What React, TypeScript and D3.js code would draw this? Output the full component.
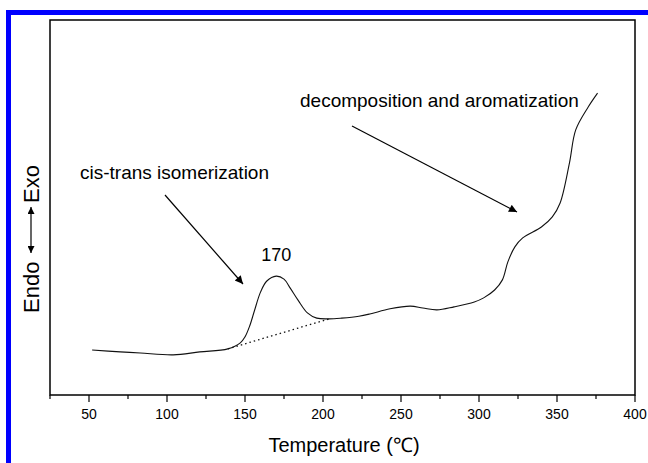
import React from "react";
import * as d3 from "d3";

const temperature: number[] = [52, 70, 83, 104, 121, 139, 147, 150, 153, 156, 160, 164, 170, 175, 179, 184, 190, 196, 204, 212, 223, 230, 243, 256, 264, 273, 284, 297, 303, 310, 315, 318.5, 323, 328, 340, 347, 352, 358, 362, 370, 376];
const heatFlow: number[] = [1.2, 1.15, 1.12, 1.07, 1.15, 1.23, 1.39, 1.55, 1.84, 2.24, 2.75, 3.04, 3.17, 3.09, 2.85, 2.53, 2.19, 2.05, 2.03, 2.05, 2.1, 2.16, 2.3, 2.37, 2.32, 2.27, 2.35, 2.48, 2.59, 2.8, 3.07, 3.55, 3.95, 4.19, 4.48, 4.75, 5.12, 6.19, 7.07, 7.68, 8.05];
const baselineT: number[] = [139, 204];
const baselineV: number[] = [1.23, 2.03];
const majorTicks: number[] = [50, 100, 150, 200, 250, 300, 350, 400];
const minorTicks: number[] = [25, 75, 125, 175, 225, 275, 325, 375];

export default function App() {
  const W = 648, H = 463;
  const left = 50, right = 635, top = 20, bottom = 395;
  const x = d3.scaleLinear().domain([25, 400]).range([left, right]);
  const y = d3.scaleLinear().domain([0, 10]).range([bottom, top]);
  const pts: [number, number][] = temperature.map((t, i) => [t, heatFlow[i]]);
  const line = d3
    .line<[number, number]>()
    .x((d) => x(d[0]))
    .y((d) => y(d[1]))
    .curve(d3.curveCatmullRom.alpha(0.5));
  const base: [number, number][] = baselineT.map((t, i) => [t, baselineV[i]]);
  const font = "'Liberation Sans', Arial, sans-serif";

  return (
    <svg width={W} height={H} style={{ position: "absolute", left: 0, top: 0, background: "#fff" }}>
      <defs>
        <marker id="ah" viewBox="0 0 10 10" refX="10" refY="5" markerWidth="10" markerHeight="8" markerUnits="userSpaceOnUse" orient="auto">
          <path d="M0,0 L10,5 L0,10 z" fill="#000" />
        </marker>
        <marker id="ahs" viewBox="0 0 10 10" refX="10" refY="5" markerWidth="8" markerHeight="7" markerUnits="userSpaceOnUse" orient="auto-start-reverse">
          <path d="M0,0 L10,5 L0,10 z" fill="#000" />
        </marker>
      </defs>
      <rect x={0} y={0} width={W} height={H} fill="#fff" />
      {/* blue border */}
      <rect x={6} y={10} width={642} height={5} fill="#0000ff" />
      <rect x={6} y={10} width={5} height={453} fill="#0000ff" />

      {/* frame */}
      <rect x={left} y={top} width={right - left} height={bottom - top} fill="none" stroke="#000" strokeWidth={1.5} />

      {/* ticks */}
      {majorTicks.map((t) => (
        <g key={"M" + t}>
          <line x1={x(t)} x2={x(t)} y1={bottom} y2={bottom + 7} stroke="#000" strokeWidth={1.2} />
          <text x={x(t)} y={419} textAnchor="middle" fontFamily={font} fontSize={14} fill="#000">
            {t}
          </text>
        </g>
      ))}
      {minorTicks.map((t) => (
        <line key={"m" + t} x1={x(t)} x2={x(t)} y1={bottom} y2={bottom + 4} stroke="#000" strokeWidth={1.2} />
      ))}

      {/* x axis title */}
      <text x={344} y={452} textAnchor="middle" fontFamily={font} fontSize={20} fill="#000">
        Temperature (℃)
      </text>

      {/* y axis label */}
      <g transform="translate(39,0) rotate(-90)">
        <text x={-313} y={0} textAnchor="start" fontFamily={font} fontSize={22} fill="#000">
          Endo
        </text>
        <line x1={-253} x2={-207} y1={-8} y2={-8} stroke="#000" strokeWidth={1.2} markerStart="url(#ahs)" markerEnd="url(#ahs)" />
        <text x={-203} y={0} textAnchor="start" fontFamily={font} fontSize={22} fill="#000">
          Exo
        </text>
      </g>

      {/* curve */}
      <path d={line(pts) || ""} fill="none" stroke="#111" strokeWidth={1.1} />
      <path
        d={d3.line<[number, number]>().x((d) => x(d[0])).y((d) => y(d[1]))(base) || ""}
        fill="none"
        stroke="#111"
        strokeWidth={1.3}
        strokeDasharray="1.5,3"
      />

      {/* annotations */}
      <text x={80} y={179} fontFamily={font} fontSize={19} fill="#000">
        cis-trans isomerization
      </text>
      <line x1={165} y1={195} x2={243} y2={284} stroke="#000" strokeWidth={1.2} markerEnd="url(#ah)" />
      <text x={x(170)} y={261} textAnchor="middle" fontFamily={font} fontSize={18} fill="#000">
        170
      </text>
      <text x={300} y={107} fontFamily={font} fontSize={19} fill="#000">
        decomposition and aromatization
      </text>
      <line x1={352} y1={126} x2={517} y2={212} stroke="#000" strokeWidth={1.2} markerEnd="url(#ah)" />
    </svg>
  );
}
